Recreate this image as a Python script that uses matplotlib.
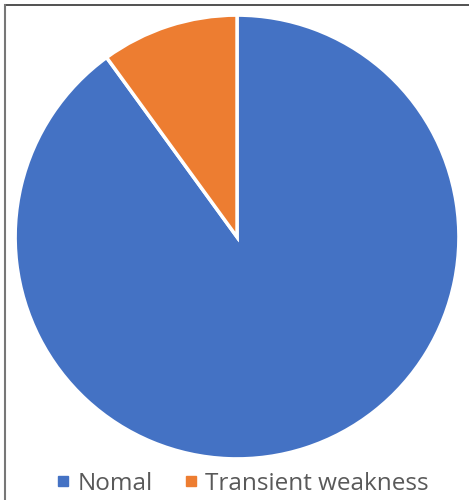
import matplotlib.pyplot as plt
from matplotlib.lines import Line2D

# データ
labels = ['Nomal', 'Transient weakness']
values = [90, 10]
colors = ['#4472C4', '#ED7D31']

plt.rcParams['font.family'] = ['Open Sans', 'DejaVu Sans']

fig = plt.figure(figsize=(4.69, 5.0), dpi=100)
ax = fig.add_axes([0.0299, 0.08, 0.951, 0.892])
ax.pie(values, colors=colors, startangle=90, counterclock=False,
       wedgeprops={'edgecolor': 'white', 'linewidth': 2.5})
ax.set_xlim(-1.005, 1.005)
ax.set_ylim(-1.005, 1.005)
ax.set_aspect('equal')

# 凡例
handles = [Line2D([], [], marker='s', linestyle='', markersize=7.5,
                  markerfacecolor=c, markeredgecolor=c) for c in colors]
fig.legend(handles, labels, loc='center', bbox_to_anchor=(0.511, 0.032), ncol=2,
           frameon=False, fontsize=17.5, labelcolor='#595959',
           handletextpad=0.1, columnspacing=1.07, handlelength=1.0)

# 枠線（上と左）
x0 = 5 / 469
y0 = 1 - 5 / 500
fig.add_artist(Line2D([x0, 1], [y0, y0], transform=fig.transFigure, color='#333333', linewidth=1.2))
fig.add_artist(Line2D([x0, x0], [0, y0], transform=fig.transFigure, color='#777777', linewidth=1.5))

fig.savefig('out.png', dpi=100)
